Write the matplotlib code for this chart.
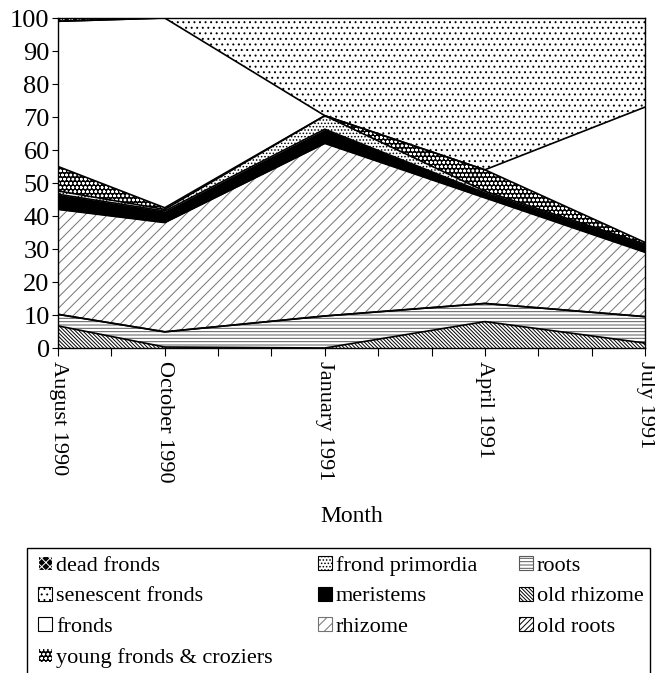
import matplotlib
matplotlib.use('Agg')
import matplotlib.pyplot as plt
from matplotlib.patches import Rectangle
import numpy as np

plt.rcParams['font.family'] = ['Liberation Serif', 'DejaVu Serif']
plt.rcParams['hatch.linewidth'] = 0.7

# months since August 1990
months = [0, 2, 5, 8, 11]
month_labels = ['August 1990', 'October 1990', 'January 1991', 'April 1991', 'July 1991']

# percentages, stacked bottom -> top
old_rhizome = [6.7, 0.3, 0.0, 8.0, 1.5]
roots = [3.5, 4.6, 9.7, 5.5, 8.0]
old_roots = [0.0, 0.0, 0.0, 0.0, 0.0]
rhizome = [31.8, 33.1, 52.3, 32.0, 19.5]
meristems = [4.6, 3.5, 4.3, 1.5, 2.2]
frond_primordia = [1.0, 0.5, 4.1, 0.5, 0.3]
young_fronds = [7.4, 0.5, 0.0, 6.5, 0.5]
fronds = [44.0, 57.5, 0.0, 0.0, 41.0]
senescent_fronds = [0.0, 0.0, 29.6, 46.0, 27.0]
dead_fronds = [1.0, 0.0, 0.0, 0.0, 0.0]

series = [
    ('old rhizome', old_rhizome),
    ('roots', roots),
    ('old roots', old_roots),
    ('rhizome', rhizome),
    ('meristems', meristems),
    ('frond primordia', frond_primordia),
    ('young fronds & croziers', young_fronds),
    ('fronds', fronds),
    ('senescent fronds', senescent_fronds),
    ('dead fronds', dead_fronds),
]

# (facecolor, hatch colour, hatch)
styles = {
    'old rhizome': ('white', 'black', '\\' * 9),
    'roots': ('white', '0.35', '-----'),
    'old roots': ('white', 'black', '//////'),
    'rhizome': ('white', '0.45', '///'),
    'meristems': ('black', 'black', None),
    'frond primordia': ('white', 'black', '.....'),
    'young fronds & croziers': ('black', 'white', 'oooo'),
    'fronds': ('white', 'black', None),
    'senescent fronds': ('white', 'black', '...'),
    'dead fronds': ('black', 'white', 'xxxx'),
}

fig = plt.figure(figsize=(6.55, 6.73), dpi=100)
ax = fig.add_axes([58/655, 1-348/673, (645-58)/655, 330/673])

x = np.array(months, dtype=float)
base = np.zeros(len(x))
for name, vals in series:
    fc, hc, h = styles[name]
    top = base + np.array(vals)
    ax.fill_between(x, base, top, facecolor=fc, edgecolor=hc, hatch=h, linewidth=0)
    base = top
base = np.zeros(len(x))
for name, vals in series:
    top = base + np.array(vals)
    ax.plot(x, top, color='black', lw=1.2, solid_joinstyle='miter')
    base = top

ax.set_xlim(0, 11)
ax.set_ylim(0, 100)
ax.set_yticks(np.arange(0, 101, 10))
ax.set_xticks(months)
ax.set_xticklabels(month_labels, rotation=-90, ha='center', va='top', fontsize=16)
ax.set_xticks(range(0, 12), minor=True)
ax.tick_params(axis='x', which='both', direction='out', length=6, width=0.8, pad=3)
ax.tick_params(axis='y', direction='out', length=4, width=0.8, labelsize=19, pad=2)
ax.set_xlabel('Month', fontsize=17, labelpad=17)
for s in ax.spines.values():
    s.set_linewidth(1.0)

# legend
handles = {}
for name, vals in series:
    fc, hc, h = styles[name]
    handles[name] = Rectangle((0, 0), 1, 1, facecolor=fc, edgecolor=hc if h else 'black',
                              hatch=h, linewidth=0.8)

cols = [
    (38, ['dead fronds', 'senescent fronds', 'fronds', 'young fronds & croziers']),
    (318, ['frond primordia', 'meristems', 'rhizome']),
    (519, ['roots', 'old rhizome', 'old roots']),
]
for xpx, names in cols:
    fig.legend([handles[n] for n in names], names, loc='upper left',
               bbox_to_anchor=(xpx/655, 1-556/673), frameon=False,
               fontsize=16, handlelength=0.65, handleheight=0.6,
               handletextpad=0.15, labelspacing=0.48, borderpad=0,
               borderaxespad=0)

fig.add_artist(Rectangle((27/655, -0.05), (650-27)/655, 0.05 + (1-548/673),
                         transform=fig.transFigure, fill=False, edgecolor='black',
                         linewidth=1.0))

fig.savefig('out.png', dpi=100)
